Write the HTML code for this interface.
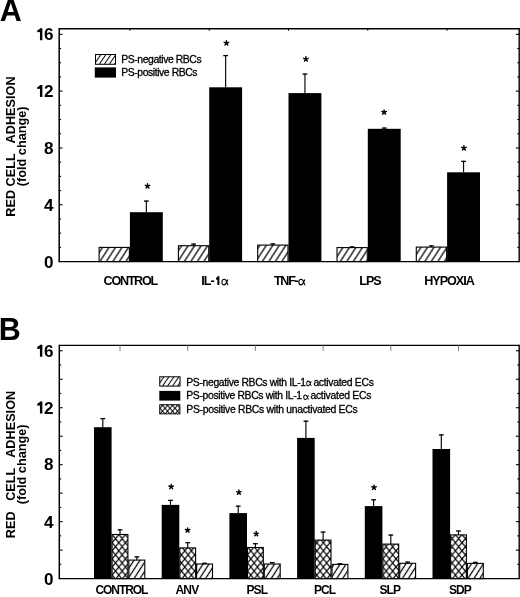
<!DOCTYPE html><html><head><meta charset="utf-8"><style>html,body{margin:0;padding:0;background:#fff;overflow:hidden}svg{display:block;will-change:transform}</style></head><body><svg width="520" height="597" viewBox="0 0 520 597" font-family='"Liberation Sans", sans-serif'>
<defs><pattern id="hatch" patternUnits="userSpaceOnUse" width="5.45" height="10" patternTransform="rotate(33)"><rect width="5.45" height="10" fill="#fff"/><line x1="2.725" y1="0" x2="2.725" y2="10" stroke="#000" stroke-width="1.25"/></pattern><pattern id="hatchB" patternUnits="userSpaceOnUse" width="5.0" height="10" patternTransform="rotate(33)"><rect width="5.0" height="10" fill="#fff"/><line x1="2.5" y1="0" x2="2.5" y2="10" stroke="#000" stroke-width="1.25"/></pattern><pattern id="hatchL" patternUnits="userSpaceOnUse" width="4.15" height="10" patternTransform="rotate(34)"><rect width="4.15" height="10" fill="#fff"/><line x1="2.075" y1="0" x2="2.075" y2="10" stroke="#000" stroke-width="1.0"/></pattern><pattern id="xpat" patternUnits="userSpaceOnUse" width="6.6" height="8.1"><rect width="6.6" height="8.1" fill="#fff"/><path d="M-3.3,4.05 L0,0 L3.3,-4.05 M0,8.1 L6.6,0 M3.3,12.149999999999999 L9.899999999999999,4.05 M-3.3,4.05 L0,8.1 L3.3,12.149999999999999 M0,0 L6.6,8.1 M3.3,-4.05 L9.899999999999999,4.05" stroke="#000" stroke-width="1.25" fill="none"/></pattern><pattern id="xpatL" patternUnits="userSpaceOnUse" width="5.0" height="5.75"><rect width="5.0" height="5.75" fill="#fff"/><path d="M-2.5,2.875 L0,0 L2.5,-2.875 M0,5.75 L5.0,0 M2.5,8.625 L7.5,2.875 M-2.5,2.875 L0,5.75 L2.5,8.625 M0,0 L5.0,5.75 M2.5,-2.875 L7.5,2.875" stroke="#000" stroke-width="1.0" fill="none"/></pattern></defs>
<rect width="520" height="597" fill="#fff"/>
<text x="-0.2" y="21.2" font-size="30.5" font-weight="bold">A</text>
<line x1="59.2" y1="28.05" x2="59.2" y2="262.2" stroke="#000" stroke-width="1.5"/>
<line x1="519.2" y1="28.05" x2="519.2" y2="262.2" stroke="#000" stroke-width="1.4"/>
<line x1="59.2" y1="28.75" x2="519.2" y2="28.75" stroke="#000" stroke-width="1.4"/>
<line x1="59.2" y1="261.55" x2="519.2" y2="261.55" stroke="#000" stroke-width="1.3"/>
<line x1="59.2" y1="247.35" x2="61.1" y2="247.35" stroke="#000" stroke-width="1.1"/>
<line x1="519.2" y1="247.35" x2="517.3000000000001" y2="247.35" stroke="#000" stroke-width="1.1"/>
<line x1="59.2" y1="233.15" x2="61.1" y2="233.15" stroke="#000" stroke-width="1.1"/>
<line x1="519.2" y1="233.15" x2="517.3000000000001" y2="233.15" stroke="#000" stroke-width="1.1"/>
<line x1="59.2" y1="218.95" x2="61.1" y2="218.95" stroke="#000" stroke-width="1.1"/>
<line x1="519.2" y1="218.95" x2="517.3000000000001" y2="218.95" stroke="#000" stroke-width="1.1"/>
<line x1="59.2" y1="204.75" x2="62.5" y2="204.75" stroke="#000" stroke-width="1.1"/>
<line x1="519.2" y1="204.75" x2="515.9000000000001" y2="204.75" stroke="#000" stroke-width="1.1"/>
<line x1="59.2" y1="190.55" x2="61.1" y2="190.55" stroke="#000" stroke-width="1.1"/>
<line x1="519.2" y1="190.55" x2="517.3000000000001" y2="190.55" stroke="#000" stroke-width="1.1"/>
<line x1="59.2" y1="176.35" x2="61.1" y2="176.35" stroke="#000" stroke-width="1.1"/>
<line x1="519.2" y1="176.35" x2="517.3000000000001" y2="176.35" stroke="#000" stroke-width="1.1"/>
<line x1="59.2" y1="162.15" x2="61.1" y2="162.15" stroke="#000" stroke-width="1.1"/>
<line x1="519.2" y1="162.15" x2="517.3000000000001" y2="162.15" stroke="#000" stroke-width="1.1"/>
<line x1="59.2" y1="147.95" x2="62.5" y2="147.95" stroke="#000" stroke-width="1.1"/>
<line x1="519.2" y1="147.95" x2="515.9000000000001" y2="147.95" stroke="#000" stroke-width="1.1"/>
<line x1="59.2" y1="133.75" x2="61.1" y2="133.75" stroke="#000" stroke-width="1.1"/>
<line x1="519.2" y1="133.75" x2="517.3000000000001" y2="133.75" stroke="#000" stroke-width="1.1"/>
<line x1="59.2" y1="119.55" x2="61.1" y2="119.55" stroke="#000" stroke-width="1.1"/>
<line x1="519.2" y1="119.55" x2="517.3000000000001" y2="119.55" stroke="#000" stroke-width="1.1"/>
<line x1="59.2" y1="105.35" x2="61.1" y2="105.35" stroke="#000" stroke-width="1.1"/>
<line x1="519.2" y1="105.35" x2="517.3000000000001" y2="105.35" stroke="#000" stroke-width="1.1"/>
<line x1="59.2" y1="91.15" x2="62.5" y2="91.15" stroke="#000" stroke-width="1.1"/>
<line x1="519.2" y1="91.15" x2="515.9000000000001" y2="91.15" stroke="#000" stroke-width="1.1"/>
<line x1="59.2" y1="76.95" x2="61.1" y2="76.95" stroke="#000" stroke-width="1.1"/>
<line x1="519.2" y1="76.95" x2="517.3000000000001" y2="76.95" stroke="#000" stroke-width="1.1"/>
<line x1="59.2" y1="62.75" x2="61.1" y2="62.75" stroke="#000" stroke-width="1.1"/>
<line x1="519.2" y1="62.75" x2="517.3000000000001" y2="62.75" stroke="#000" stroke-width="1.1"/>
<line x1="59.2" y1="48.55" x2="61.1" y2="48.55" stroke="#000" stroke-width="1.1"/>
<line x1="519.2" y1="48.55" x2="517.3000000000001" y2="48.55" stroke="#000" stroke-width="1.1"/>
<line x1="59.2" y1="34.35" x2="62.5" y2="34.35" stroke="#000" stroke-width="1.1"/>
<line x1="519.2" y1="34.35" x2="515.9000000000001" y2="34.35" stroke="#000" stroke-width="1.1"/>
<line x1="129.90" y1="28.75" x2="129.90" y2="30.75" stroke="#000" stroke-width="1"/>
<line x1="209.20" y1="28.75" x2="209.20" y2="30.75" stroke="#000" stroke-width="1"/>
<line x1="288.50" y1="28.75" x2="288.50" y2="30.75" stroke="#000" stroke-width="1"/>
<line x1="367.80" y1="28.75" x2="367.80" y2="30.75" stroke="#000" stroke-width="1"/>
<line x1="447.10" y1="28.75" x2="447.10" y2="30.75" stroke="#000" stroke-width="1"/>
<text x="53.5" y="40.20" text-anchor="end" font-size="17.1" font-weight="bold">6</text>
<path d="M42.35,28.20 L42.35,40.20 L39.95,40.20 L39.95,32.10 L37.30,32.30 L37.30,30.20 Q39.35,29.90 40.15,28.20 Z" fill="#000"/>
<text x="53.5" y="96.90" text-anchor="end" font-size="17.1" font-weight="bold">2</text>
<path d="M42.35,84.90 L42.35,96.90 L39.95,96.90 L39.95,88.80 L37.30,89.00 L37.30,86.90 Q39.35,86.60 40.15,84.90 Z" fill="#000"/>
<text x="53.5" y="154.10" text-anchor="end" font-size="17.1" font-weight="bold">8</text>
<text x="53.5" y="210.70" text-anchor="end" font-size="17.1" font-weight="bold">4</text>
<text x="53.5" y="267.80" text-anchor="end" font-size="17.1" font-weight="bold">0</text>
<rect x="99.10" y="247.40" width="30.30" height="14.15" fill="url(#hatch)" stroke="#000" stroke-width="1.1"/>
<rect x="129.90" y="212.20" width="32.90" height="49.35" fill="#000"/>
<line x1="146.35" y1="212.20" x2="146.35" y2="200.50" stroke="#000" stroke-width="1.15"/>
<line x1="143.95" y1="201.10" x2="148.75" y2="201.10" stroke="#000" stroke-width="1.3"/>
<path d="M147.50,186.07L147.50,183.72M147.50,186.07L149.73,185.35M147.50,186.07L148.88,187.98M147.50,186.07L146.12,187.98M147.50,186.07L145.27,185.35" stroke="#000" stroke-width="1.45" stroke-linecap="round" fill="none"/>
<rect x="178.40" y="245.70" width="30.30" height="15.85" fill="url(#hatch)" stroke="#000" stroke-width="1.1"/>
<line x1="193.55" y1="245.60" x2="193.55" y2="243.50" stroke="#000" stroke-width="1.15"/>
<line x1="191.15" y1="244.10" x2="195.95" y2="244.10" stroke="#000" stroke-width="1.3"/>
<rect x="209.20" y="87.30" width="32.90" height="174.25" fill="#000"/>
<line x1="225.65" y1="87.30" x2="225.65" y2="55.00" stroke="#000" stroke-width="1.15"/>
<line x1="223.25" y1="55.60" x2="228.05" y2="55.60" stroke="#000" stroke-width="1.3"/>
<path d="M226.40,43.08L226.40,40.73M226.40,43.08L228.63,42.35M226.40,43.08L227.78,44.98M226.40,43.08L225.02,44.98M226.40,43.08L224.17,42.35" stroke="#000" stroke-width="1.45" stroke-linecap="round" fill="none"/>
<rect x="257.70" y="245.10" width="30.30" height="16.45" fill="url(#hatch)" stroke="#000" stroke-width="1.1"/>
<line x1="272.85" y1="245.00" x2="272.85" y2="243.30" stroke="#000" stroke-width="1.15"/>
<line x1="270.45" y1="243.90" x2="275.25" y2="243.90" stroke="#000" stroke-width="1.3"/>
<rect x="288.50" y="93.10" width="32.90" height="168.45" fill="#000"/>
<line x1="304.95" y1="93.10" x2="304.95" y2="73.50" stroke="#000" stroke-width="1.15"/>
<line x1="302.55" y1="74.10" x2="307.35" y2="74.10" stroke="#000" stroke-width="1.3"/>
<path d="M305.90,59.08L305.90,56.73M305.90,59.08L308.13,58.35M305.90,59.08L307.28,60.98M305.90,59.08L304.52,60.98M305.90,59.08L303.67,58.35" stroke="#000" stroke-width="1.45" stroke-linecap="round" fill="none"/>
<rect x="337.00" y="247.60" width="30.30" height="13.95" fill="url(#hatch)" stroke="#000" stroke-width="1.1"/>
<line x1="352.15" y1="247.50" x2="352.15" y2="246.30" stroke="#000" stroke-width="1.15"/>
<line x1="349.75" y1="246.90" x2="354.55" y2="246.90" stroke="#000" stroke-width="1.3"/>
<rect x="367.80" y="128.80" width="32.90" height="132.75" fill="#000"/>
<line x1="384.25" y1="128.80" x2="384.25" y2="127.50" stroke="#000" stroke-width="1.15"/>
<line x1="381.85" y1="128.10" x2="386.65" y2="128.10" stroke="#000" stroke-width="1.3"/>
<path d="M384.10,112.27L384.10,109.92M384.10,112.27L386.33,111.55M384.10,112.27L385.48,114.18M384.10,112.27L382.72,114.18M384.10,112.27L381.87,111.55" stroke="#000" stroke-width="1.45" stroke-linecap="round" fill="none"/>
<rect x="416.30" y="247.10" width="30.30" height="14.45" fill="url(#hatch)" stroke="#000" stroke-width="1.1"/>
<line x1="431.45" y1="247.00" x2="431.45" y2="245.30" stroke="#000" stroke-width="1.15"/>
<line x1="429.05" y1="245.90" x2="433.85" y2="245.90" stroke="#000" stroke-width="1.3"/>
<rect x="447.10" y="172.30" width="32.90" height="89.25" fill="#000"/>
<line x1="463.55" y1="172.30" x2="463.55" y2="160.80" stroke="#000" stroke-width="1.15"/>
<line x1="461.15" y1="161.40" x2="465.95" y2="161.40" stroke="#000" stroke-width="1.3"/>
<path d="M463.90,148.07L463.90,145.72M463.90,148.07L466.13,147.35M463.90,148.07L465.28,149.98M463.90,148.07L462.52,149.98M463.90,148.07L461.67,147.35" stroke="#000" stroke-width="1.45" stroke-linecap="round" fill="none"/>
<text x="130.2" y="285" text-anchor="middle" font-size="12.6" font-weight="bold" letter-spacing="-1.3">CONTROL</text>
<text x="370.0" y="285" text-anchor="middle" font-size="12.6" font-weight="bold" letter-spacing="-1.0">LPS</text>
<text x="449.0" y="285" text-anchor="middle" font-size="12.6" font-weight="bold" letter-spacing="-1.0">HYPOXIA</text>
<text x="201.2" y="285" font-size="12.6" font-weight="bold" letter-spacing="-0.9">IL-</text>
<path d="M219.40,276.20 L219.40,285.00 L217.40,285.00 L217.40,279.51 L216.00,279.69 L216.00,277.90 Q216.80,277.64 217.60,276.20 Z" fill="#000"/>
<path transform="translate(221.57,279.27) scale(0.864,0.942)" d="M7.3,0.3 C6.8,1.5 6.3,2.6 5.6,3.6 C4.8,5.0 4.0,6.0 2.8,6.0 C1.3,6.0 0.45,4.8 0.45,3.1 C0.45,1.4 1.5,0 3.0,0 C4.6,0 5.5,1.6 6.0,3.2 C6.4,4.6 6.8,5.9 7.7,5.9" fill="none" stroke="#000" stroke-width="1.274"/>
<text x="273.9" y="285" font-size="12.6" font-weight="bold" letter-spacing="-1.25">TNF-</text>
<path transform="translate(298.47,279.27) scale(0.877,0.942)" d="M7.3,0.3 C6.8,1.5 6.3,2.6 5.6,3.6 C4.8,5.0 4.0,6.0 2.8,6.0 C1.3,6.0 0.45,4.8 0.45,3.1 C0.45,1.4 1.5,0 3.0,0 C4.6,0 5.5,1.6 6.0,3.2 C6.4,4.6 6.8,5.9 7.7,5.9" fill="none" stroke="#000" stroke-width="1.265"/>
<rect x="95.5" y="54.5" width="20" height="9.8" fill="url(#hatchL)" stroke="#000" stroke-width="1"/>
<rect x="94.8" y="67.4" width="21.2" height="10.2" fill="#000"/>
<text x="121.3" y="63" font-size="10.4" letter-spacing="-0.42" stroke="#000" stroke-width="0.3">PS-negative RBCs</text>
<text x="121.3" y="75.7" font-size="10.4" letter-spacing="-0.42" stroke="#000" stroke-width="0.3">PS-positive RBCs</text>
<text transform="translate(15,146.6) rotate(-90)" text-anchor="middle" font-size="12.7" font-weight="bold" xml:space="preserve">RED CELL   ADHESION</text>
<text transform="translate(26.2,146.3) rotate(-90)" text-anchor="middle" font-size="12.7" font-weight="bold">(fold change)</text>
<text x="-1.3" y="339.6" font-size="30.5" font-weight="bold">B</text>
<line x1="59.3" y1="344.7" x2="59.3" y2="579.25" stroke="#000" stroke-width="1.5"/>
<line x1="519.2" y1="344.7" x2="519.2" y2="579.25" stroke="#000" stroke-width="1.4"/>
<line x1="59.3" y1="345.4" x2="519.2" y2="345.4" stroke="#000" stroke-width="1.4"/>
<line x1="59.3" y1="578.6" x2="519.2" y2="578.6" stroke="#000" stroke-width="1.3"/>
<line x1="59.3" y1="564.36" x2="61.199999999999996" y2="564.36" stroke="#000" stroke-width="1.1"/>
<line x1="519.2" y1="564.36" x2="517.3000000000001" y2="564.36" stroke="#000" stroke-width="1.1"/>
<line x1="59.3" y1="550.12" x2="62.599999999999994" y2="550.12" stroke="#000" stroke-width="1.1"/>
<line x1="519.2" y1="550.12" x2="515.9000000000001" y2="550.12" stroke="#000" stroke-width="1.1"/>
<line x1="59.3" y1="535.88" x2="61.199999999999996" y2="535.88" stroke="#000" stroke-width="1.1"/>
<line x1="519.2" y1="535.88" x2="517.3000000000001" y2="535.88" stroke="#000" stroke-width="1.1"/>
<line x1="59.3" y1="521.64" x2="62.599999999999994" y2="521.64" stroke="#000" stroke-width="1.1"/>
<line x1="519.2" y1="521.64" x2="515.9000000000001" y2="521.64" stroke="#000" stroke-width="1.1"/>
<line x1="59.3" y1="507.40" x2="61.199999999999996" y2="507.40" stroke="#000" stroke-width="1.1"/>
<line x1="519.2" y1="507.40" x2="517.3000000000001" y2="507.40" stroke="#000" stroke-width="1.1"/>
<line x1="59.3" y1="493.16" x2="62.599999999999994" y2="493.16" stroke="#000" stroke-width="1.1"/>
<line x1="519.2" y1="493.16" x2="515.9000000000001" y2="493.16" stroke="#000" stroke-width="1.1"/>
<line x1="59.3" y1="478.92" x2="61.199999999999996" y2="478.92" stroke="#000" stroke-width="1.1"/>
<line x1="519.2" y1="478.92" x2="517.3000000000001" y2="478.92" stroke="#000" stroke-width="1.1"/>
<line x1="59.3" y1="464.68" x2="62.599999999999994" y2="464.68" stroke="#000" stroke-width="1.1"/>
<line x1="519.2" y1="464.68" x2="515.9000000000001" y2="464.68" stroke="#000" stroke-width="1.1"/>
<line x1="59.3" y1="450.44" x2="61.199999999999996" y2="450.44" stroke="#000" stroke-width="1.1"/>
<line x1="519.2" y1="450.44" x2="517.3000000000001" y2="450.44" stroke="#000" stroke-width="1.1"/>
<line x1="59.3" y1="436.20" x2="62.599999999999994" y2="436.20" stroke="#000" stroke-width="1.1"/>
<line x1="519.2" y1="436.20" x2="515.9000000000001" y2="436.20" stroke="#000" stroke-width="1.1"/>
<line x1="59.3" y1="421.96" x2="61.199999999999996" y2="421.96" stroke="#000" stroke-width="1.1"/>
<line x1="519.2" y1="421.96" x2="517.3000000000001" y2="421.96" stroke="#000" stroke-width="1.1"/>
<line x1="59.3" y1="407.72" x2="62.599999999999994" y2="407.72" stroke="#000" stroke-width="1.1"/>
<line x1="519.2" y1="407.72" x2="515.9000000000001" y2="407.72" stroke="#000" stroke-width="1.1"/>
<line x1="59.3" y1="393.48" x2="61.199999999999996" y2="393.48" stroke="#000" stroke-width="1.1"/>
<line x1="519.2" y1="393.48" x2="517.3000000000001" y2="393.48" stroke="#000" stroke-width="1.1"/>
<line x1="59.3" y1="379.24" x2="62.599999999999994" y2="379.24" stroke="#000" stroke-width="1.1"/>
<line x1="519.2" y1="379.24" x2="515.9000000000001" y2="379.24" stroke="#000" stroke-width="1.1"/>
<line x1="59.3" y1="365.00" x2="61.199999999999996" y2="365.00" stroke="#000" stroke-width="1.1"/>
<line x1="519.2" y1="365.00" x2="517.3000000000001" y2="365.00" stroke="#000" stroke-width="1.1"/>
<line x1="59.3" y1="350.76" x2="62.599999999999994" y2="350.76" stroke="#000" stroke-width="1.1"/>
<line x1="519.2" y1="350.76" x2="515.9000000000001" y2="350.76" stroke="#000" stroke-width="1.1"/>
<line x1="120.00" y1="345.4" x2="120.00" y2="350.9" stroke="#777" stroke-width="1"/>
<line x1="187.70" y1="345.4" x2="187.70" y2="350.9" stroke="#777" stroke-width="1"/>
<line x1="255.40" y1="345.4" x2="255.40" y2="350.9" stroke="#777" stroke-width="1"/>
<line x1="323.10" y1="345.4" x2="323.10" y2="350.9" stroke="#777" stroke-width="1"/>
<line x1="390.80" y1="345.4" x2="390.80" y2="350.9" stroke="#777" stroke-width="1"/>
<line x1="458.50" y1="345.4" x2="458.50" y2="350.9" stroke="#777" stroke-width="1"/>
<text x="53.5" y="356.80" text-anchor="end" font-size="17.1" font-weight="bold">6</text>
<path d="M42.35,344.80 L42.35,356.80 L39.95,356.80 L39.95,348.70 L37.30,348.90 L37.30,346.80 Q39.35,346.50 40.15,344.80 Z" fill="#000"/>
<text x="53.5" y="413.60" text-anchor="end" font-size="17.1" font-weight="bold">2</text>
<path d="M42.35,401.60 L42.35,413.60 L39.95,413.60 L39.95,405.50 L37.30,405.70 L37.30,403.60 Q39.35,403.30 40.15,401.60 Z" fill="#000"/>
<text x="53.5" y="470.40" text-anchor="end" font-size="17.1" font-weight="bold">8</text>
<text x="53.5" y="527.60" text-anchor="end" font-size="17.1" font-weight="bold">4</text>
<text x="53.5" y="585.40" text-anchor="end" font-size="17.1" font-weight="bold">0</text>
<rect x="94.00" y="427.20" width="17.60" height="151.40" fill="#000"/>
<line x1="102.80" y1="427.20" x2="102.80" y2="418.00" stroke="#000" stroke-width="1.15"/>
<line x1="100.40" y1="418.60" x2="105.20" y2="418.60" stroke="#000" stroke-width="1.3"/>
<rect x="112.10" y="534.50" width="15.80" height="44.10" fill="url(#xpat)" stroke="#000" stroke-width="1.1"/>
<line x1="120.00" y1="534.40" x2="120.00" y2="529.20" stroke="#000" stroke-width="1.15"/>
<line x1="117.60" y1="529.80" x2="122.40" y2="529.80" stroke="#000" stroke-width="1.3"/>
<rect x="128.90" y="560.10" width="15.90" height="18.50" fill="url(#hatchB)" stroke="#000" stroke-width="1.1"/>
<line x1="136.85" y1="560.00" x2="136.85" y2="556.30" stroke="#000" stroke-width="1.15"/>
<line x1="134.45" y1="556.90" x2="139.25" y2="556.90" stroke="#000" stroke-width="1.3"/>
<rect x="161.70" y="504.90" width="17.60" height="73.70" fill="#000"/>
<line x1="170.50" y1="504.90" x2="170.50" y2="499.80" stroke="#000" stroke-width="1.15"/>
<line x1="168.10" y1="500.40" x2="172.90" y2="500.40" stroke="#000" stroke-width="1.3"/>
<rect x="179.80" y="547.90" width="15.80" height="30.70" fill="url(#xpat)" stroke="#000" stroke-width="1.1"/>
<line x1="187.70" y1="547.80" x2="187.70" y2="542.10" stroke="#000" stroke-width="1.15"/>
<line x1="185.30" y1="542.70" x2="190.10" y2="542.70" stroke="#000" stroke-width="1.3"/>
<rect x="196.60" y="564.00" width="15.90" height="14.60" fill="url(#hatchB)" stroke="#000" stroke-width="1.1"/>
<line x1="204.55" y1="563.90" x2="204.55" y2="562.70" stroke="#000" stroke-width="1.15"/>
<line x1="202.15" y1="563.30" x2="206.95" y2="563.30" stroke="#000" stroke-width="1.3"/>
<rect x="229.40" y="513.10" width="17.60" height="65.50" fill="#000"/>
<line x1="238.20" y1="513.10" x2="238.20" y2="505.60" stroke="#000" stroke-width="1.15"/>
<line x1="235.80" y1="506.20" x2="240.60" y2="506.20" stroke="#000" stroke-width="1.3"/>
<rect x="247.50" y="547.50" width="15.80" height="31.10" fill="url(#xpat)" stroke="#000" stroke-width="1.1"/>
<line x1="255.40" y1="547.40" x2="255.40" y2="543.10" stroke="#000" stroke-width="1.15"/>
<line x1="253.00" y1="543.70" x2="257.80" y2="543.70" stroke="#000" stroke-width="1.3"/>
<rect x="264.30" y="564.00" width="15.90" height="14.60" fill="url(#hatchB)" stroke="#000" stroke-width="1.1"/>
<line x1="272.25" y1="563.90" x2="272.25" y2="562.00" stroke="#000" stroke-width="1.15"/>
<line x1="269.85" y1="562.60" x2="274.65" y2="562.60" stroke="#000" stroke-width="1.3"/>
<rect x="297.10" y="437.90" width="17.60" height="140.70" fill="#000"/>
<line x1="305.90" y1="437.90" x2="305.90" y2="420.60" stroke="#000" stroke-width="1.15"/>
<line x1="303.50" y1="421.20" x2="308.30" y2="421.20" stroke="#000" stroke-width="1.3"/>
<rect x="315.20" y="540.10" width="15.80" height="38.50" fill="url(#xpat)" stroke="#000" stroke-width="1.1"/>
<line x1="323.10" y1="540.00" x2="323.10" y2="531.50" stroke="#000" stroke-width="1.15"/>
<line x1="320.70" y1="532.10" x2="325.50" y2="532.10" stroke="#000" stroke-width="1.3"/>
<rect x="332.00" y="564.40" width="15.90" height="14.20" fill="url(#hatchB)" stroke="#000" stroke-width="1.1"/>
<line x1="339.95" y1="564.30" x2="339.95" y2="563.10" stroke="#000" stroke-width="1.15"/>
<line x1="337.55" y1="563.70" x2="342.35" y2="563.70" stroke="#000" stroke-width="1.3"/>
<rect x="364.80" y="506.10" width="17.60" height="72.50" fill="#000"/>
<line x1="373.60" y1="506.10" x2="373.60" y2="499.20" stroke="#000" stroke-width="1.15"/>
<line x1="371.20" y1="499.80" x2="376.00" y2="499.80" stroke="#000" stroke-width="1.3"/>
<rect x="382.90" y="544.10" width="15.80" height="34.50" fill="url(#xpat)" stroke="#000" stroke-width="1.1"/>
<line x1="390.80" y1="544.00" x2="390.80" y2="534.50" stroke="#000" stroke-width="1.15"/>
<line x1="388.40" y1="535.10" x2="393.20" y2="535.10" stroke="#000" stroke-width="1.3"/>
<rect x="399.70" y="563.30" width="15.90" height="15.30" fill="url(#hatchB)" stroke="#000" stroke-width="1.1"/>
<line x1="407.65" y1="563.20" x2="407.65" y2="561.50" stroke="#000" stroke-width="1.15"/>
<line x1="405.25" y1="562.10" x2="410.05" y2="562.10" stroke="#000" stroke-width="1.3"/>
<rect x="432.50" y="449.00" width="17.60" height="129.60" fill="#000"/>
<line x1="441.30" y1="449.00" x2="441.30" y2="434.30" stroke="#000" stroke-width="1.15"/>
<line x1="438.90" y1="434.90" x2="443.70" y2="434.90" stroke="#000" stroke-width="1.3"/>
<rect x="450.60" y="534.90" width="15.80" height="43.70" fill="url(#xpat)" stroke="#000" stroke-width="1.1"/>
<line x1="458.50" y1="534.80" x2="458.50" y2="530.40" stroke="#000" stroke-width="1.15"/>
<line x1="456.10" y1="531.00" x2="460.90" y2="531.00" stroke="#000" stroke-width="1.3"/>
<rect x="467.40" y="563.40" width="15.90" height="15.20" fill="url(#hatchB)" stroke="#000" stroke-width="1.1"/>
<line x1="475.35" y1="563.30" x2="475.35" y2="561.80" stroke="#000" stroke-width="1.15"/>
<line x1="472.95" y1="562.40" x2="477.75" y2="562.40" stroke="#000" stroke-width="1.3"/>
<path d="M171.20,486.78L171.20,484.43M171.20,486.78L173.43,486.05M171.20,486.78L172.58,488.68M171.20,486.78L169.82,488.68M171.20,486.78L168.97,486.05" stroke="#000" stroke-width="1.45" stroke-linecap="round" fill="none"/>
<path d="M187.60,530.28L187.60,527.93M187.60,530.28L189.83,529.55M187.60,530.28L188.98,532.18M187.60,530.28L186.22,532.18M187.60,530.28L185.37,529.55" stroke="#000" stroke-width="1.45" stroke-linecap="round" fill="none"/>
<path d="M238.90,492.38L238.90,490.03M238.90,492.38L241.13,491.65M238.90,492.38L240.28,494.28M238.90,492.38L237.52,494.28M238.90,492.38L236.67,491.65" stroke="#000" stroke-width="1.45" stroke-linecap="round" fill="none"/>
<path d="M256.20,533.88L256.20,531.52M256.20,533.88L258.43,533.15M256.20,533.88L257.58,535.78M256.20,533.88L254.82,535.78M256.20,533.88L253.97,533.15" stroke="#000" stroke-width="1.45" stroke-linecap="round" fill="none"/>
<path d="M374.00,487.48L374.00,485.12M374.00,487.48L376.23,486.75M374.00,487.48L375.38,489.38M374.00,487.48L372.62,489.38M374.00,487.48L371.77,486.75" stroke="#000" stroke-width="1.45" stroke-linecap="round" fill="none"/>
<text x="121.4" y="594.3" text-anchor="middle" font-size="12" font-weight="bold" letter-spacing="-1.05">CONTROL</text>
<text x="186.9" y="594.3" text-anchor="middle" font-size="12" font-weight="bold" letter-spacing="-0.8">ANV</text>
<text x="256.8" y="594.3" text-anchor="middle" font-size="12" font-weight="bold" letter-spacing="-0.9">PSL</text>
<text x="324.6" y="594.3" text-anchor="middle" font-size="12" font-weight="bold" letter-spacing="-0.9">PCL</text>
<text x="389.8" y="594.3" text-anchor="middle" font-size="12" font-weight="bold" letter-spacing="-0.9">SLP</text>
<text x="459.9" y="594.3" text-anchor="middle" font-size="12" font-weight="bold" letter-spacing="-0.9">SDP</text>
<rect x="159.75" y="376.8" width="20.3" height="9.3" fill="url(#hatchL)" stroke="#000" stroke-width="1"/>
<rect x="159.3" y="390.9" width="21.0" height="9.7" fill="#000"/>
<rect x="159.75" y="404.75" width="20.1" height="9.1" fill="url(#xpatL)" stroke="#000" stroke-width="1"/>
<text x="186.3" y="385.8" font-size="10.4" stroke="#000" stroke-width="0.3" letter-spacing="-0.36">PS-negative RBCs with IL-1</text>
<path transform="translate(306.40,381.10) scale(0.649,0.783)" d="M7.3,0.3 C6.8,1.5 6.3,2.6 5.6,3.6 C4.8,5.0 4.0,6.0 2.8,6.0 C1.3,6.0 0.45,4.8 0.45,3.1 C0.45,1.4 1.5,0 3.0,0 C4.6,0 5.5,1.6 6.0,3.2 C6.4,4.6 6.8,5.9 7.7,5.9" fill="none" stroke="#000" stroke-width="1.396"/>
<text x="313.4" y="385.8" font-size="10.4" stroke="#000" stroke-width="0.3" letter-spacing="-0.3">activated ECs</text>
<text x="186.3" y="399.4" font-size="10.4" stroke="#000" stroke-width="0.3" letter-spacing="-0.36">PS-positive RBCs with IL-1</text>
<path transform="translate(303.40,395.10) scale(0.688,0.733)" d="M7.3,0.3 C6.8,1.5 6.3,2.6 5.6,3.6 C4.8,5.0 4.0,6.0 2.8,6.0 C1.3,6.0 0.45,4.8 0.45,3.1 C0.45,1.4 1.5,0 3.0,0 C4.6,0 5.5,1.6 6.0,3.2 C6.4,4.6 6.8,5.9 7.7,5.9" fill="none" stroke="#000" stroke-width="1.407"/>
<text x="310.4" y="399.4" font-size="10.4" stroke="#000" stroke-width="0.3" letter-spacing="-0.25">activated ECs</text>
<text x="186.3" y="413.0" font-size="10.4" stroke="#000" stroke-width="0.3" letter-spacing="-0.31">PS-positive RBCs with unactivated ECs</text>
<text transform="translate(15,464.5) rotate(-90)" text-anchor="middle" font-size="12.7" font-weight="bold" xml:space="preserve">RED   CELL   ADHESION</text>
<text transform="translate(26.2,464.3) rotate(-90)" text-anchor="middle" font-size="12.7" font-weight="bold">(fold change)</text>
</svg></body></html>
